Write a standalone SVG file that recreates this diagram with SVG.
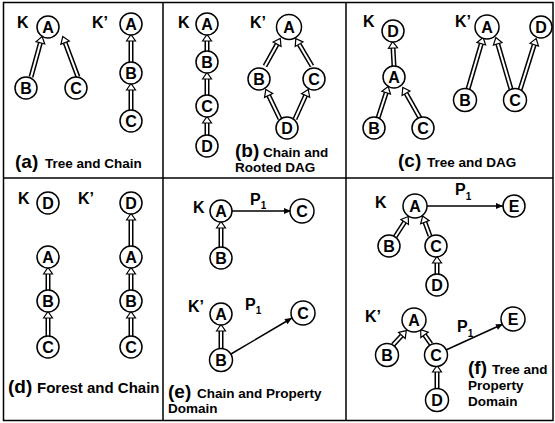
<svg xmlns="http://www.w3.org/2000/svg" width="555" height="423" viewBox="0 0 555 423">
<style>
text{font-family:"Liberation Sans",Arial,sans-serif;font-weight:bold;fill:#000}
.n circle{fill:#fff;stroke:#000;stroke-width:1.5}
.n text{font-size:16px;text-anchor:middle}
.k{font-size:16px}
.p{font-size:19px}
.c{font-size:13.5px}
.s{font-size:10px}
.o{stroke:#000;stroke-width:5;fill:none}
.i{stroke:#fff;stroke-width:2;fill:none}
.l{stroke:#000;stroke-width:1.5;fill:none}
.fr{fill:none;stroke:#000;stroke-width:1.5}
</style>
<defs>
<marker id="h" markerUnits="userSpaceOnUse" markerWidth="12" markerHeight="12" viewBox="0 0 12 10" refX="1" refY="5" orient="auto" overflow="visible">
<path d="M1,0.5 L7.5,5 L1,9.5 Z" fill="#fff" stroke="#000" stroke-width="1.2"/>
</marker>
<marker id="f" markerUnits="userSpaceOnUse" markerWidth="8" markerHeight="8" viewBox="0 0 8 6" refX="7" refY="3" orient="auto" overflow="visible">
<path d="M0,0 L7,3 L0,6 Z" fill="#000"/>
</marker>
</defs>
<rect width="555" height="423" fill="#fff"/>
<g id="frame" class="fr">
<rect x="3.5" y="2.5" width="549.5" height="418"/>
<line x1="163" y1="2.5" x2="163" y2="420.5"/>
<line x1="346" y1="2.5" x2="346" y2="420.5"/>
<line x1="3.5" y1="178" x2="553" y2="178"/>
</g>
<g id="connectors">
<g id="hollow">
<path class="o" d="M31,77L40.4,42.8M78,77L65.1,42.6M131,62L131,41M131,110L131,90M207,51L207,41M207,95L207,79M207,135L207,123M265,66L277.1,44.2M312,66L299.1,44.2M280,119L268.6,95.4M295,119L305.6,95.5M394,66L393,48M378,118L386.2,92.7M420,118L406,93.2M468,89L481.3,43.7M511,89L497.7,43.8M520,90L534.2,44.7M48,290L48,274M48,336L48,318M131,246L131,220M131,290L131,274M131,336L131,318M221,247L221,228M221,349L221,331M395,237L404.7,222M430,236L424.9,222.2M437,274L437,263M393,345L401.9,335.4M431,344L424.5,334.9M437,389L437,372"/>
<line class="i" x1="31" y1="77" x2="40.4" y2="42.8" marker-end="url(#h)"/>
<line class="i" x1="78" y1="77" x2="65.1" y2="42.6" marker-end="url(#h)"/>
<line class="i" x1="131" y1="62" x2="131" y2="41" marker-end="url(#h)"/>
<line class="i" x1="131" y1="110" x2="131" y2="90" marker-end="url(#h)"/>
<line class="i" x1="207" y1="51" x2="207" y2="41" marker-end="url(#h)"/>
<line class="i" x1="207" y1="95" x2="207" y2="79" marker-end="url(#h)"/>
<line class="i" x1="207" y1="135" x2="207" y2="123" marker-end="url(#h)"/>
<line class="i" x1="265" y1="66" x2="277.1" y2="44.2" marker-end="url(#h)"/>
<line class="i" x1="312" y1="66" x2="299.1" y2="44.2" marker-end="url(#h)"/>
<line class="i" x1="280" y1="119" x2="268.6" y2="95.4" marker-end="url(#h)"/>
<line class="i" x1="295" y1="119" x2="305.6" y2="95.5" marker-end="url(#h)"/>
<line class="i" x1="394" y1="66" x2="393" y2="48" marker-end="url(#h)"/>
<line class="i" x1="378" y1="118" x2="386.2" y2="92.7" marker-end="url(#h)"/>
<line class="i" x1="420" y1="118" x2="406" y2="93.2" marker-end="url(#h)"/>
<line class="i" x1="468" y1="89" x2="481.3" y2="43.7" marker-end="url(#h)"/>
<line class="i" x1="511" y1="89" x2="497.7" y2="43.8" marker-end="url(#h)"/>
<line class="i" x1="520" y1="90" x2="534.2" y2="44.7" marker-end="url(#h)"/>
<line class="i" x1="48" y1="290" x2="48" y2="274" marker-end="url(#h)"/>
<line class="i" x1="48" y1="336" x2="48" y2="318" marker-end="url(#h)"/>
<line class="i" x1="131" y1="246" x2="131" y2="220" marker-end="url(#h)"/>
<line class="i" x1="131" y1="290" x2="131" y2="274" marker-end="url(#h)"/>
<line class="i" x1="131" y1="336" x2="131" y2="318" marker-end="url(#h)"/>
<line class="i" x1="221" y1="247" x2="221" y2="228" marker-end="url(#h)"/>
<line class="i" x1="221" y1="349" x2="221" y2="331" marker-end="url(#h)"/>
<line class="i" x1="395" y1="237" x2="404.7" y2="222" marker-end="url(#h)"/>
<line class="i" x1="430" y1="236" x2="424.9" y2="222.2" marker-end="url(#h)"/>
<line class="i" x1="437" y1="274" x2="437" y2="263" marker-end="url(#h)"/>
<line class="i" x1="393" y1="345" x2="401.9" y2="335.4" marker-end="url(#h)"/>
<line class="i" x1="431" y1="344" x2="424.5" y2="334.9" marker-end="url(#h)"/>
<line class="i" x1="437" y1="389" x2="437" y2="372" marker-end="url(#h)"/>
</g>
<g id="property">
<line class="l" x1="232" y1="211" x2="291" y2="211" marker-end="url(#f)"/>
<line class="l" x1="231" y1="354" x2="292" y2="318" marker-end="url(#f)"/>
<line class="l" x1="427" y1="206" x2="503" y2="206" marker-end="url(#f)"/>
<line class="l" x1="446" y1="350" x2="503" y2="324" marker-end="url(#f)"/>
</g>
</g>
<!-- panel a -->
<g id="a-K-A" class="n"><circle cx="48" cy="27" r="11"/><text x="48" y="32.5">A</text></g>
<g id="a-K-B" class="n"><circle cx="26" cy="88" r="11"/><text x="26" y="93.5">B</text></g>
<g id="a-K-C" class="n"><circle cx="76" cy="88" r="11"/><text x="76" y="93.5">C</text></g>
<g id="a-K2-A" class="n"><circle cx="131" cy="24" r="11"/><text x="131" y="29.5">A</text></g>
<g id="a-K2-B" class="n"><circle cx="131" cy="73" r="11"/><text x="131" y="78.5">B</text></g>
<g id="a-K2-C" class="n"><circle cx="131" cy="121" r="11"/><text x="131" y="126.5">C</text></g>
<!-- panel b -->
<g id="b-K-A" class="n"><circle cx="207" cy="24" r="11"/><text x="207" y="29.5">A</text></g>
<g id="b-K-B" class="n"><circle cx="207" cy="62" r="11"/><text x="207" y="67.5">B</text></g>
<g id="b-K-C" class="n"><circle cx="207" cy="106" r="11"/><text x="207" y="111.5">C</text></g>
<g id="b-K-D" class="n"><circle cx="207" cy="146" r="11"/><text x="207" y="151.5">D</text></g>
<g id="b-K2-A" class="n"><circle cx="289" cy="27" r="12.5"/><text x="289" y="33">A</text></g>
<g id="b-K2-B" class="n"><circle cx="259" cy="79" r="11"/><text x="259" y="84.5">B</text></g>
<g id="b-K2-C" class="n"><circle cx="314" cy="79" r="11"/><text x="314" y="84.5">C</text></g>
<g id="b-K2-D" class="n"><circle cx="287" cy="128" r="11"/><text x="287" y="133.5">D</text></g>
<!-- panel c -->
<g id="c-K-D" class="n"><circle cx="393" cy="31" r="11"/><text x="393" y="36.5">D</text></g>
<g id="c-K-A" class="n"><circle cx="394" cy="77" r="11"/><text x="394" y="82.5">A</text></g>
<g id="c-K-B" class="n"><circle cx="374" cy="128" r="11"/><text x="374" y="133.5">B</text></g>
<g id="c-K-C" class="n"><circle cx="423" cy="128" r="11"/><text x="423" y="133.5">C</text></g>
<g id="c-K2-A" class="n"><circle cx="487" cy="27" r="12"/><text x="487" y="32.5">A</text></g>
<g id="c-K2-D" class="n"><circle cx="541" cy="27" r="11"/><text x="541" y="32.5">D</text></g>
<g id="c-K2-B" class="n"><circle cx="465" cy="100" r="11.5"/><text x="465" y="105.5">B</text></g>
<g id="c-K2-C" class="n"><circle cx="515" cy="100" r="11.5"/><text x="515" y="105.5">C</text></g>
<!-- panel d -->
<g id="d-K-D" class="n"><circle cx="48" cy="203" r="11"/><text x="48" y="208.5">D</text></g>
<g id="d-K-A" class="n"><circle cx="48" cy="257" r="11"/><text x="48" y="262.5">A</text></g>
<g id="d-K-B" class="n"><circle cx="48" cy="301" r="11"/><text x="48" y="306.5">B</text></g>
<g id="d-K-C" class="n"><circle cx="48" cy="347" r="11"/><text x="48" y="352.5">C</text></g>
<g id="d-K2-D" class="n"><circle cx="131" cy="203" r="11"/><text x="131" y="208.5">D</text></g>
<g id="d-K2-A" class="n"><circle cx="131" cy="257" r="11"/><text x="131" y="262.5">A</text></g>
<g id="d-K2-B" class="n"><circle cx="131" cy="301" r="11"/><text x="131" y="306.5">B</text></g>
<g id="d-K2-C" class="n"><circle cx="131" cy="347" r="11"/><text x="131" y="352.5">C</text></g>
<!-- panel e -->
<g id="e-K-A" class="n"><circle cx="221" cy="211" r="11"/><text x="221" y="216.5">A</text></g>
<g id="e-K-C" class="n"><circle cx="302" cy="211" r="12"/><text x="302" y="216.5">C</text></g>
<g id="e-K-B" class="n"><circle cx="221" cy="258" r="11"/><text x="221" y="263.5">B</text></g>
<g id="e-K2-A" class="n"><circle cx="221" cy="314" r="11"/><text x="221" y="319.5">A</text></g>
<g id="e-K2-C" class="n"><circle cx="303" cy="313" r="12"/><text x="303" y="318.5">C</text></g>
<g id="e-K2-B" class="n"><circle cx="221" cy="360" r="11.5"/><text x="221" y="365.5">B</text></g>
<!-- panel f -->
<g id="f-K-A" class="n"><circle cx="415" cy="206" r="12"/><text x="415" y="211.5">A</text></g>
<g id="f-K-E" class="n"><circle cx="514" cy="206" r="11"/><text x="514" y="211.5">E</text></g>
<g id="f-K-B" class="n"><circle cx="389" cy="246" r="11"/><text x="389" y="251.5">B</text></g>
<g id="f-K-C" class="n"><circle cx="436" cy="246" r="11"/><text x="436" y="251.5">C</text></g>
<g id="f-K-D" class="n"><circle cx="437" cy="285" r="11"/><text x="437" y="290.5">D</text></g>
<g id="f-K2-A" class="n"><circle cx="414" cy="320" r="12"/><text x="414" y="325.5">A</text></g>
<g id="f-K2-E" class="n"><circle cx="513" cy="319" r="12"/><text x="513" y="324.5">E</text></g>
<g id="f-K2-B" class="n"><circle cx="387" cy="355" r="11.5"/><text x="387" y="360.5">B</text></g>
<g id="f-K2-C" class="n"><circle cx="436" cy="355" r="11.5"/><text x="436" y="360.5">C</text></g>
<g id="f-K2-D" class="n"><circle cx="437" cy="400" r="11.5"/><text x="437" y="405.5">D</text></g>
<g id="labels">
<text class="k" x="17" y="28">K</text>
<text class="k" x="92" y="28">K’</text>
<text class="k" x="178" y="28">K</text>
<text class="k" x="250" y="28">K’</text>
<text class="k" x="363" y="27">K</text>
<text class="k" x="455" y="27">K’</text>
<text class="k" x="18" y="204">K</text>
<text class="k" x="78" y="204">K’</text>
<text class="k" x="193" y="213">K</text>
<text class="k" x="188" y="312">K’</text>
<text class="k" x="375" y="208">K</text>
<text class="k" x="365" y="322">K’</text>
<text class="k" x="250" y="205">P<tspan class="s" dy="4">1</tspan></text>
<text class="k" x="245" y="310">P<tspan class="s" dy="4">1</tspan></text>
<text class="k" x="455" y="195">P<tspan class="s" dy="5">1</tspan></text>
<text class="k" x="457" y="332">P<tspan class="s" dy="5">1</tspan></text>
<text x="15" y="168"><tspan class="p">(a)</tspan><tspan class="c" x="45">Tree and Chain</tspan></text>
<text x="235" y="157"><tspan class="p">(b)</tspan><tspan class="c" x="263">Chain and</tspan></text>
<text class="c" x="235" y="172">Rooted DAG</text>
<text x="398" y="167"><tspan class="p">(c)</tspan><tspan class="c" x="427">Tree and DAG</tspan></text>
<text x="8" y="393"><tspan class="p">(d)</tspan><tspan class="c" x="37" style="font-size:15px">Forest and Chain</tspan></text>
<text x="168" y="398"><tspan class="p">(e)</tspan><tspan class="c" x="197">Chain and Property</tspan></text>
<text class="c" x="168" y="413">Domain</text>
<text x="468" y="374"><tspan class="p">(f)</tspan><tspan class="c" x="492">Tree and</tspan></text>
<text class="c" x="468" y="390">Property</text>
<text class="c" x="468" y="406">Domain</text>
</g>
</svg>
